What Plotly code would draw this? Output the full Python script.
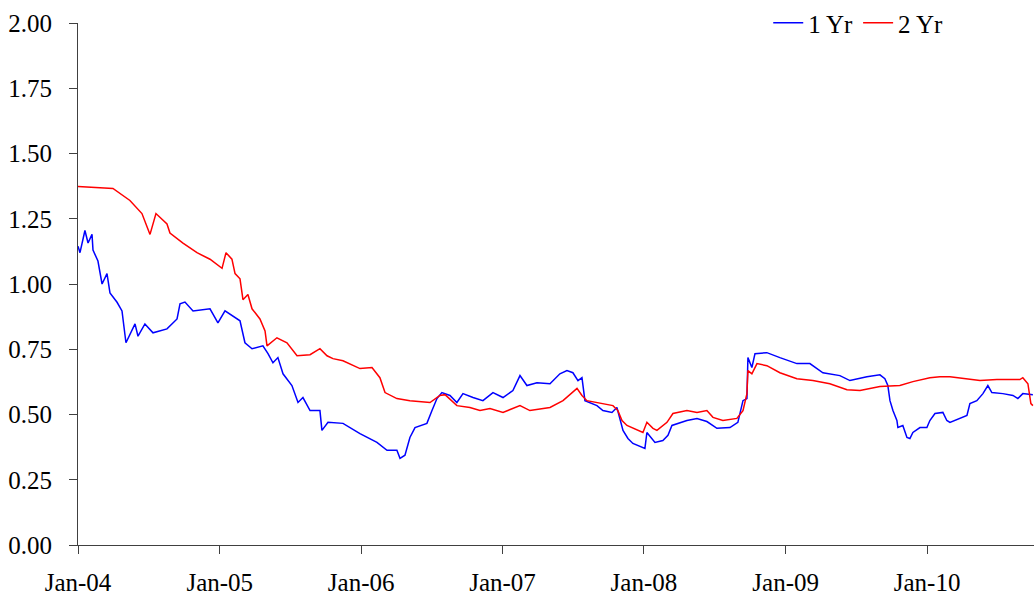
import pandas as pd
import plotly.graph_objects as go

# time expressed as decimal years
one_yr_t = [2004.000, 2004.014, 2004.049, 2004.071, 2004.099, 2004.106, 2004.141, 2004.170, 2004.205, 2004.226,
            2004.276, 2004.311, 2004.339, 2004.403, 2004.424, 2004.473, 2004.530, 2004.629, 2004.700, 2004.721,
            2004.756, 2004.813, 2004.933, 2004.989, 2005.039, 2005.145, 2005.180, 2005.230, 2005.307, 2005.343,
            2005.378, 2005.413, 2005.449, 2005.512, 2005.555, 2005.590, 2005.640, 2005.710, 2005.724, 2005.767,
            2005.873, 2005.993, 2006.113, 2006.184, 2006.254, 2006.276, 2006.311, 2006.346, 2006.382, 2006.466,
            2006.502, 2006.537, 2006.572, 2006.629, 2006.678, 2006.721, 2006.792, 2006.862, 2006.933, 2007.004,
            2007.074, 2007.124, 2007.173, 2007.244, 2007.336, 2007.406, 2007.456, 2007.498, 2007.534, 2007.562,
            2007.583, 2007.668, 2007.710, 2007.774, 2007.809, 2007.830, 2007.852, 2007.887, 2007.922, 2008.007,
            2008.021, 2008.078, 2008.134, 2008.170, 2008.198, 2008.304, 2008.375, 2008.445, 2008.516, 2008.608,
            2008.664, 2008.700, 2008.728, 2008.735, 2008.763, 2008.785, 2008.869, 2008.961, 2009.081, 2009.173,
            2009.265, 2009.385, 2009.456, 2009.576, 2009.668, 2009.703, 2009.724, 2009.739, 2009.760, 2009.788,
            2009.795, 2009.830, 2009.859, 2009.880, 2009.901, 2009.951, 2010.000, 2010.021, 2010.057, 2010.113,
            2010.141, 2010.163, 2010.233, 2010.283, 2010.304, 2010.353, 2010.396, 2010.431, 2010.459, 2010.537,
            2010.608, 2010.643, 2010.678, 2010.749]
one_yr = [1.145, 1.120, 1.205, 1.157, 1.190, 1.130, 1.088, 1.000, 1.040, 0.966,
          0.930, 0.897, 0.775, 0.847, 0.800, 0.847, 0.813, 0.828, 0.866, 0.924,
          0.931, 0.897, 0.905, 0.851, 0.897, 0.859, 0.775, 0.752, 0.763, 0.733,
          0.698, 0.718, 0.656, 0.611, 0.546, 0.565, 0.515, 0.515, 0.439, 0.470,
          0.466, 0.427, 0.393, 0.363, 0.363, 0.332, 0.344, 0.412, 0.450, 0.466,
          0.515, 0.561, 0.584, 0.573, 0.546, 0.580, 0.565, 0.553, 0.584, 0.565,
          0.592, 0.649, 0.611, 0.622, 0.618, 0.656, 0.668, 0.660, 0.630, 0.641,
          0.553, 0.534, 0.515, 0.508, 0.527, 0.485, 0.439, 0.408, 0.389, 0.370,
          0.431, 0.393, 0.400, 0.420, 0.458, 0.477, 0.485, 0.473, 0.447, 0.450,
          0.470, 0.553, 0.561, 0.718, 0.680, 0.733, 0.737, 0.718, 0.695, 0.695,
          0.660, 0.649, 0.630, 0.645, 0.652, 0.637, 0.611, 0.553, 0.515, 0.477,
          0.450, 0.458, 0.412, 0.408, 0.431, 0.450, 0.450, 0.477, 0.504, 0.508,
          0.477, 0.470, 0.485, 0.496, 0.542, 0.553, 0.580, 0.611, 0.584, 0.580,
          0.573, 0.561, 0.580, 0.576]

two_yr_t = [2004.000, 2004.120, 2004.247, 2004.367, 2004.452, 2004.509, 2004.551, 2004.629, 2004.650, 2004.742,
            2004.841, 2004.933, 2005.018, 2005.046, 2005.088, 2005.110, 2005.145, 2005.166, 2005.201, 2005.230,
            2005.286, 2005.322, 2005.336, 2005.406, 2005.477, 2005.548, 2005.640, 2005.710, 2005.760, 2005.802,
            2005.873, 2005.993, 2006.078, 2006.134, 2006.170, 2006.254, 2006.346, 2006.488, 2006.558, 2006.594,
            2006.678, 2006.770, 2006.841, 2006.912, 2007.004, 2007.124, 2007.194, 2007.336, 2007.428, 2007.527,
            2007.562, 2007.597, 2007.668, 2007.739, 2007.781, 2007.816, 2007.845, 2007.880, 2007.922, 2007.993,
            2008.021, 2008.064, 2008.092, 2008.163, 2008.205, 2008.304, 2008.375, 2008.445, 2008.488, 2008.558,
            2008.657, 2008.700, 2008.728, 2008.735, 2008.763, 2008.799, 2008.869, 2008.961, 2009.081, 2009.194,
            2009.314, 2009.435, 2009.527, 2009.668, 2009.809, 2009.901, 2010.021, 2010.092, 2010.163, 2010.283,
            2010.375, 2010.495, 2010.657, 2010.678, 2010.714, 2010.735, 2010.749]
two_yr = [1.374, 1.370, 1.366, 1.320, 1.270, 1.190, 1.270, 1.230, 1.195, 1.157,
          1.120, 1.095, 1.060, 1.120, 1.095, 1.040, 1.020, 0.940, 0.960, 0.905,
          0.866, 0.820, 0.763, 0.794, 0.775, 0.725, 0.729, 0.752, 0.725, 0.714,
          0.706, 0.676, 0.680, 0.641, 0.584, 0.561, 0.553, 0.546, 0.573, 0.576,
          0.534, 0.527, 0.515, 0.523, 0.508, 0.534, 0.515, 0.527, 0.553, 0.600,
          0.573, 0.553, 0.546, 0.538, 0.534, 0.515, 0.477, 0.458, 0.447, 0.431,
          0.470, 0.447, 0.439, 0.470, 0.504, 0.515, 0.508, 0.515, 0.489, 0.477,
          0.485, 0.515, 0.580, 0.668, 0.656, 0.695, 0.687, 0.660, 0.637, 0.630,
          0.618, 0.595, 0.592, 0.607, 0.611, 0.626, 0.641, 0.645, 0.645, 0.637,
          0.630, 0.634, 0.634, 0.641, 0.618, 0.542, 0.534]

series_names = ["1 Yr", "2 Yr"]
y_ticks = [0, 0.25, 0.5, 0.75, 1.0, 1.25, 1.5, 1.75, 2.0]


def to_dates(ts):
    base = pd.Timestamp("2004-01-01")
    return [base + pd.Timedelta(days=(t - 2004.0) * 365.25) for t in ts]


font = "Liberation Serif, Times New Roman, serif"

fig = go.Figure()
fig.add_trace(go.Scatter(x=to_dates(one_yr_t), y=one_yr, mode="lines", name=series_names[0],
                         line=dict(color="#0000FF", width=1.5)))
fig.add_trace(go.Scatter(x=to_dates(two_yr_t), y=two_yr, mode="lines", name=series_names[1],
                         line=dict(color="#FF0000", width=1.5)))

fig.update_layout(
    width=1034, height=600,
    margin=dict(l=78, r=0, t=21, b=55),
    paper_bgcolor="white", plot_bgcolor="white",
    font=dict(family=font, size=25, color="black"),
    showlegend=True,
    legend=dict(orientation="h", x=0.722, y=1.0, xanchor="left", yanchor="middle",
                font=dict(family=font, size=25), bgcolor="rgba(0,0,0,0)",
                itemwidth=30, tracegroupgap=0),
    xaxis=dict(type="date", range=["2004-01-01", "2010-10-04"], automargin=False,
               tick0="2004-01-01", dtick="M12", tickformat="%b-%y",
               showgrid=False, zeroline=False, showline=True, linecolor="#404040", linewidth=1,
               ticks="outside", ticklen=8, tickcolor="#404040", ticklabelstandoff=7),
    yaxis=dict(range=[0, 2], tickvals=y_ticks, tickformat=".2f", automargin=False,
               showgrid=False, zeroline=False, showline=True, linecolor="#404040", linewidth=1,
               ticks="outside", ticklen=8, tickcolor="#404040", ticklabelstandoff=12),
)

fig.write_html("out.html", config={"displayModeBar": False},
               post_script="document.body.style.margin='0';document.body.style.overflow='hidden';")
